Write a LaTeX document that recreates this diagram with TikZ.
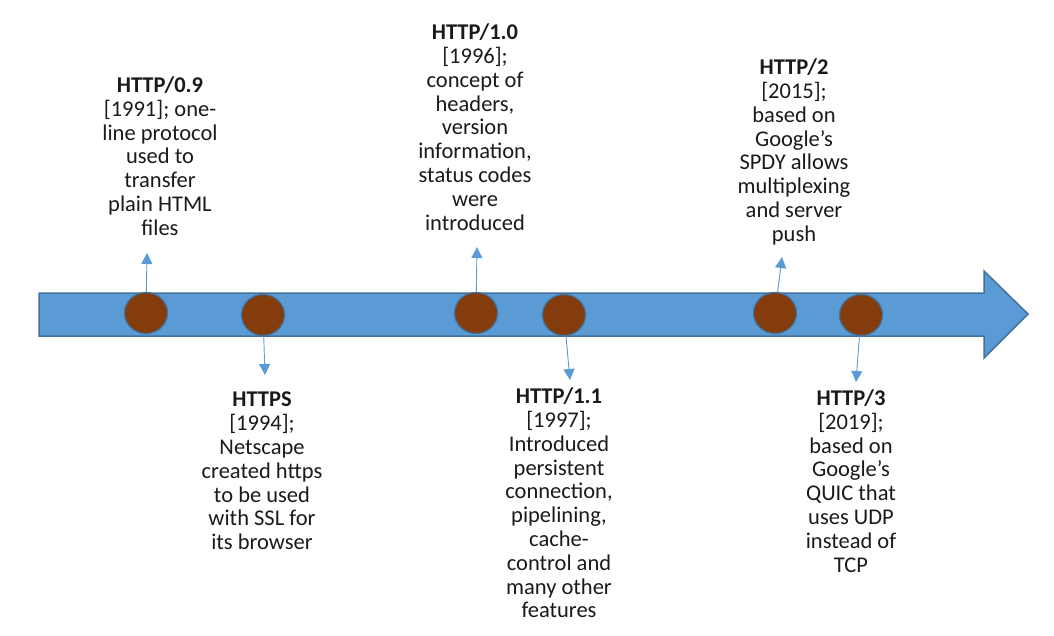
\documentclass[tikz,border=0pt]{standalone}
\usepackage{fontspec}
\setmainfont{Carlito}
\usetikzlibrary{arrows.meta,shapes.geometric}
\definecolor{barblue}{HTML}{5B9BD5}
\definecolor{barline}{HTML}{41719C}
\definecolor{dotbrown}{HTML}{843C0C}
\definecolor{txt}{HTML}{1A1A1A}
\tikzset{
  dot/.style={ellipse,fill=dotbrown,draw=barline,line width=1.2pt,minimum width=43pt,minimum height=41pt,inner sep=0pt},
  label/.style={align=center,inner sep=0pt,text=txt,font=\fontsize{22.5}{23.8}\selectfont},
  conn/.style={draw=barblue,line width=0.9pt,-{Triangle[width=11pt,length=11pt]}}
}
\begin{document}
\begin{tikzpicture}[x=1pt,y=-1pt]
\useasboundingbox (0,0) rectangle (1054,636);
% timeline arrow
\draw[fill=barblue,draw=barline,line width=1.5pt,line join=miter]
  (39,293) -- (984,293) -- (984,271) -- (1028,314) -- (984,358) -- (984,336) -- (39,336) -- cycle;
% milestones
\node[dot] (c1) at (146,313) {};
\node[dot] (c2) at (263,315) {};
\node[dot] (c3) at (476,313) {};
\node[dot] (c4) at (564,315) {};
\node[dot] (c5) at (775,313) {};
\node[dot] (c6) at (861,315) {};
% arrow tips
\coordinate (a1) at (147,253);
\coordinate (a2) at (265,375);
\coordinate (a3) at (477,247);
\coordinate (a4) at (570,380);
\coordinate (a5) at (782,257);
\coordinate (a6) at (856,382);
\draw[conn] (c1) -- (a1);
\draw[conn] (c2) -- (a2);
\draw[conn] (c3) -- (a3);
\draw[conn] (c4) -- (a4);
\draw[conn] (c5) -- (a5);
\draw[conn] (c6) -- (a6);
% labels
\node[label] (t1) at (160,156) {\textbf{HTTP/0.9}\\{[}1991]; one-\\line protocol\\used to\\transfer\\plain HTML\\files};
\node[label] (t2) at (262,471) {\textbf{HTTPS}\\{[}1994];\\Netscape\\created https\\to be used\\with SSL for\\its browser};
\node[label] (t3) at (475,127) {\textbf{HTTP/1.0}\\{[}1996];\\concept of\\headers,\\version\\information,\\status codes\\were\\introduced};
\node[label] (t4) at (559,503) {\textbf{HTTP/1.1}\\{[}1997];\\Introduced\\persistent\\connection,\\pipelining,\\cache-\\control and\\many other\\features};
\node[label] (t5) at (794,152) {\textbf{HTTP/2}\\{[}2015];\\based on\\Google’s\\SPDY allows\\multiplexing\\and server\\push};
\node[label] (t6) at (851,481) {\textbf{HTTP/3}\\{[}2019];\\based on\\Google’s\\QUIC that\\uses UDP\\instead of\\TCP};
\end{tikzpicture}
\end{document}
